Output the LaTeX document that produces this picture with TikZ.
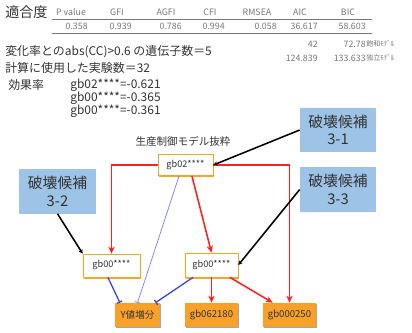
\documentclass[tikz,border=0pt]{standalone}
\usepackage{fontspec}
\setmainfont{Noto Sans CJK JP}
\usetikzlibrary{arrows.meta, positioning, shadows}
\definecolor{inkgray}{HTML}{333333}
\definecolor{tabgray}{HTML}{777777}
\definecolor{geneorange}{HTML}{F5A623}
\definecolor{leaforange}{HTML}{F7A12A}
\definecolor{candblue}{HTML}{9DC3E6}
\definecolor{actred}{HTML}{FF2020}
\definecolor{repblue}{HTML}{3344DD}
\definecolor{repthin}{HTML}{7B7BFF}

\begin{document}
\begin{tikzpicture}[
  x=0.025cm, y=-0.025cm,
  txt/.style={anchor=west, inner sep=0pt, text=inkgray, font=\fontsize{8.5}{10}\selectfont},
  tab/.style={inner sep=0pt, text=tabgray, font=\fontsize{6.3}{7}\selectfont},
  gene/.style={rectangle, draw=geneorange, line width=0.5pt, fill=white, inner sep=1pt,
               font=\fontsize{6.5}{7.5}\selectfont, text=inkgray,
               drop shadow={shadow xshift=0.5pt, shadow yshift=-1.2pt, fill=geneorange, opacity=1}},
  leaf/.style={rectangle, fill=leaforange, inner sep=1pt, minimum width=13.25mm, minimum height=6mm,
               font=\fontsize{6.8}{8}\selectfont, text=inkgray,
               drop shadow={shadow xshift=0.6pt, shadow yshift=-0.8pt, fill=black!35, opacity=1}},
  cand/.style={rectangle, fill=candblue, align=center, inner sep=1pt,
               minimum width=19mm, minimum height=11mm,
               font=\fontsize{10.5}{12.5}\selectfont, text=inkgray},
  act/.style={-{Stealth[length=5pt, width=4.5pt]}, draw=actred, line width=1.1pt},
  rep/.style={-{Bar[width=4pt]}, draw=repblue, line width=0.9pt},
  hit/.style={-{Stealth[length=3pt, width=3pt]}, draw=black, line width=1.1pt}
]
\useasboundingbox[fill=white] (0,0) rectangle (412,333);

% fit table
\node[txt, font=\fontsize{10}{12}\selectfont] (fitlbl) at (5,12) {適合度};
\foreach \x/\t in {71/P value, 117/GFI, 166/AGFI, 210/CFI, 257/RMSEA, 300/AIC, 348/BIC}
  \node[tab] at (\x,12) {\t};
\draw[tabgray, line width=0.6pt] (52,19) -- (372,19);
\foreach \x/\t in {88/0.358, 132/0.939, 182/0.786, 225/0.994, 277/0.058, 318/36.617, 366/58.603}
  \node[tab, anchor=east] at (\x,26) {\t};
\draw[tabgray, line width=0.6pt] (52,33) -- (372,33);
\node[tab, anchor=east] at (318,44) {42};
\node[tab, anchor=east] (satbic) at (366,44) {72.78};
\node[tab, anchor=west, font=\fontsize{5}{6}\selectfont] at (satbic.east) {飽和ﾓﾃﾞﾙ};
\node[tab, anchor=east] at (318,58) {124.839};
\node[tab, anchor=east] (indbic) at (366,58) {133.633};
\node[tab, anchor=west, font=\fontsize{5}{6}\selectfont] at (indbic.east) {独立ﾓﾃﾞﾙ};

% summary
\node[txt] at (5,52) {変化率とのabs(CC)>0.6 の遺伝子数＝5};
\node[txt] at (5,68) {計算に使用した実験数＝32};
\node[txt] at (8,85) {効果率};
\node[txt] at (70,85) {gb02****=-0.621};
\node[txt] at (70,98) {gb00****=-0.365};
\node[txt] at (70,111) {gb00****=-0.361};

% model excerpt
\node[txt, anchor=center, font=\fontsize{7.5}{9}\selectfont] at (183,141) {生産制御モデル抜粋};
\node[gene, minimum width=13.75mm, minimum height=5.25mm] (top) at (185.5,165) {gb02****};
\node[gene, minimum width=14.25mm, minimum height=5.75mm] (left) at (111.5,265.5) {gb00****};
\node[gene, minimum width=13.25mm, minimum height=6mm] (mid) at (211.5,265) {gb00****};
\node[leaf, minimum width=11.25mm] (yinc) at (137.5,315) {Y値増分};
\node[leaf] (g62) at (211.5,315) {gb062180};
\node[leaf] (g250) at (289.5,315) {gb000250};

\node[cand] (c31) at (338,130) {破壊候補\\3-1};
\node[cand] (c33) at (338,189.5) {破壊候補\\3-3};
\node[cand] (c32) at (57.5,191.5) {破壊候補\\3-2};

% activation
\draw[act] (top.west) -| (left.north);
\draw[act] (top.east) -| (g250.north);
\draw[act] ([xshift=1.6mm]top.south) -- (mid.north);
\draw[act] (mid.south) -- (g62.north);
\draw[act] ([xshift=4.6mm]mid.south) -- ([xshift=2.5mm]g250.north west);

% repression
\draw[rep, draw=repthin, line width=0.5pt] ([xshift=-1.6mm]top.south) -- (yinc.north);
\draw[rep] ([xshift=-0.9mm]left.south) -- ([xshift=-4.4mm]yinc.north);
\draw[rep] ([xshift=-4.6mm]mid.south) -- ([xshift=-1.2mm]yinc.north east);

% disruption candidates
\draw[hit] (c31.west) -- (top.east);
\draw[hit] (c32.south) -- (left.north west);
\draw[hit] (c33.west) -- (mid.east);
\end{tikzpicture}
\end{document}
